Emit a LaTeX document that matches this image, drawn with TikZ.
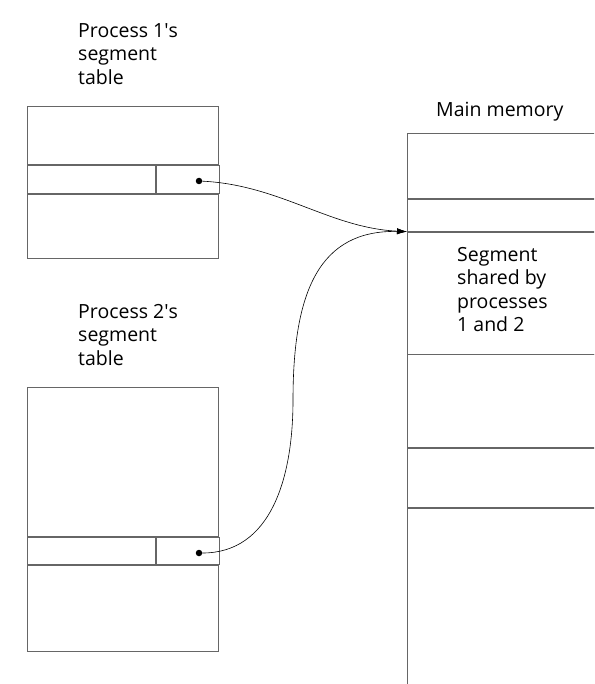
\documentclass[tikz,border=0pt]{standalone}
\usepackage{fontspec}
\setmainfont{Open Sans}
\usetikzlibrary{arrows.meta, positioning}

\begin{document}
\begin{tikzpicture}[x=1pt, y=-1pt,
  cell/.style={rectangle, draw=black!60, line width=0.8pt, inner sep=0pt,
    anchor=north west, minimum width=#1},
  lbl/.style={font=\fontsize{19.5}{23.5}\selectfont, align=left,
    anchor=north west, inner sep=0pt},
  dot/.style={circle, fill=black, inner sep=0pt, minimum size=6.5pt},
  ptr/.style={-{Latex[length=10pt, width=6pt]}, line width=0.6pt},
]
  \useasboundingbox (0,0) rectangle (594,684);
  \clip (0,0) rectangle (594,684);

  % process 1's segment table
  \node[lbl] (lbl1) at (78,23) {Process 1\textquotesingle s\\segment\\table};
  \node[cell=191pt, minimum height=58pt] (t1top) at (27,106) {};
  \node[cell=128pt, minimum height=28pt] (t1key) at (t1top.south west) {};
  \node[cell=63pt, minimum height=28pt] (t1ptr) at (t1key.north east) {};
  \node[cell=191pt, minimum height=64pt] (t1bot) at (t1key.south west) {};
  \node[dot] (p1) at (199,181) {};

  % process 2's segment table
  \node[lbl] (lbl2) at (78,304) {Process 2\textquotesingle s\\segment\\table};
  \node[cell=191pt, minimum height=149pt] (t2top) at (27,387) {};
  \node[cell=128pt, minimum height=27pt] (t2key) at (t2top.south west) {};
  \node[cell=63pt, minimum height=27pt] (t2ptr) at (t2key.north east) {};
  \node[cell=191pt, minimum height=86pt] (t2bot) at (t2key.south west) {};
  \node[dot] (p2) at (199,553) {};

  % main memory
  \node[lbl] (lblm) at (436,102) {Main memory};
  \node[cell=250pt, minimum height=65pt] (m1) at (407,133) {};
  \node[cell=250pt, minimum height=32pt] (m2) at (m1.south west) {};
  \node[cell=250pt, minimum height=122pt] (m3) at (m2.south west) {};
  \node[cell=250pt, minimum height=93pt] (m4) at (m3.south west) {};
  \node[cell=250pt, minimum height=59pt] (m5) at (m4.south west) {};
  \node[cell=250pt, minimum height=220pt] (m6) at (m5.south west) {};
  \node[lbl] (lbls) at (457,247) {Segment\\shared by\\processes\\1 and 2};

  % pointers
  \draw[ptr] (p1) .. controls (280,185) and (330,228) .. (m3.north west);
  \draw[ptr] (p2) .. controls (270,553) and (293,480) .. (293,400)
    .. controls (293,290) and (320,230) .. (m3.north west);
\end{tikzpicture}
\end{document}
